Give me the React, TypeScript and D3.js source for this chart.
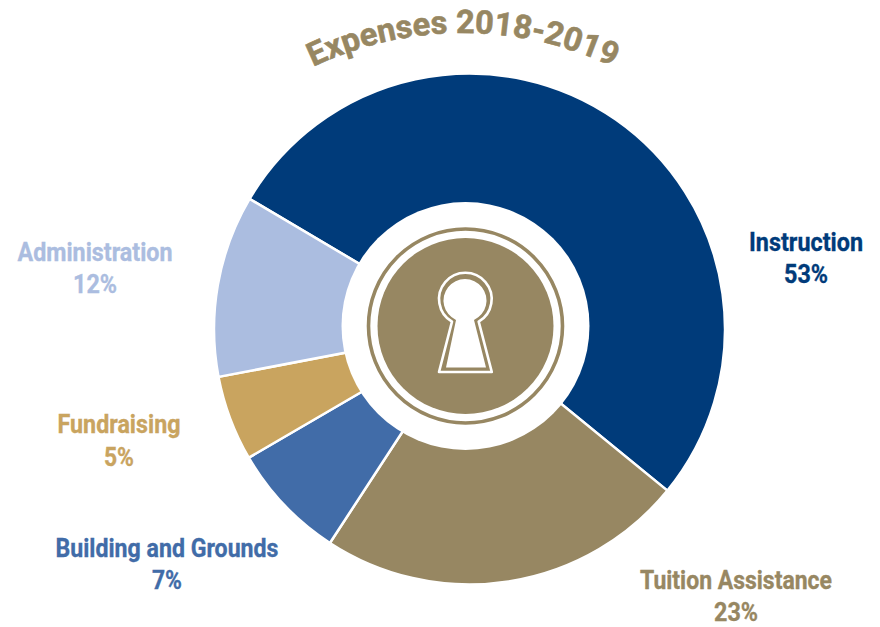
import React from 'react';
import * as d3 from 'd3';

const categories = ['Instruction', 'Tuition Assistance', 'Building and Grounds', 'Fundraising', 'Administration'];
// slice sizes, the printed labels are rounded differently
const sliceShares = [52.4, 23.3, 7.4, 5.4, 11.5];
const printedPercents = ['53%', '23%', '7%', '5%', '12%'];
const sliceColors = ['#003b7a', '#978762', '#416ca8', '#c9a45f', '#abbde0'];
const titleText = 'Expenses 2018-2019';

const width = 880;
const height = 627;
const pieCenter = { x: 469.5, y: 329 };
const hubCenter = { x: 465.5, y: 326 };
const outerRadius = 255.5;
const startDeg = -59.4;

// centre x, first baseline and squeezed text width for each label
const labelLayout = [
  { x: 806, y: 250.5, w: 114, pw: 44 },
  { x: 736, y: 588.5, w: 192, pw: 44 },
  { x: 167, y: 556.5, w: 223, pw: 30 },
  { x: 119, y: 433, w: 123, pw: 30 },
  { x: 95, y: 260.5, w: 155, pw: 44 },
];

const pie = d3.pie<number>()
  .sort(null)
  .startAngle((startDeg * Math.PI) / 180)
  .endAngle(((startDeg + 360) * Math.PI) / 180);
const arc = d3.arc<d3.PieArcDatum<number>>().innerRadius(0).outerRadius(outerRadius);

const titleCurve = d3.path();
titleCurve.arc(463, 381, 348, (-150 * Math.PI) / 180, (-30 * Math.PI) / 180);

const keyholeInner = 'M456 320 A21.5 21.5 0 1 1 474 320 L486 367.5 L446 367.5 Z';
const keyholeOuter = 'M452 321.7 A26.3 26.3 0 1 1 478.7 321.7 L491.8 372 L439 372 Z';

export default function App() {
  const slices = pie(sliceShares);
  return (
    <div style={{ position: 'fixed', left: 0, top: 0 }}>
      <svg width={width} height={height} style={{ display: 'block', fontFamily: 'Roboto', fontWeight: 700 }}>
        <rect width={width} height={height} fill="#fff" />
        <defs>
          <path id="title-curve" d={titleCurve.toString()} />
        </defs>
        <text fontSize={32.5} fill="#978762" textAnchor="middle" stroke="#978762" strokeWidth={0.6}>
          <textPath href="#title-curve" startOffset="50%">{titleText}</textPath>
        </text>
        <g transform={`translate(${pieCenter.x},${pieCenter.y})`}>
          {slices.map((d, i) => (
            <path key={categories[i]} d={arc(d) ?? ''} fill={sliceColors[i]} stroke="#fff" strokeWidth={2.5} />
          ))}
        </g>
        <g transform={`translate(${hubCenter.x},${hubCenter.y})`}>
          <circle r={124} fill="#fff" />
          <circle r={97} fill="none" stroke="#978762" strokeWidth={3.6} />
          <circle r={88} fill="#978762" />
        </g>
        <path d={keyholeInner} fill="#fff" />
        <path d={keyholeOuter} fill="none" stroke="#fff" strokeWidth={2.6} strokeLinejoin="round" />
        {categories.map((name, i) => {
          const l = labelLayout[i];
          return (
            <g key={name} fill={sliceColors[i]} stroke={sliceColors[i]} strokeWidth={0.35} fontSize={26} textAnchor="middle">
              <text x={l.x} y={l.y} textLength={l.w} lengthAdjust="spacingAndGlyphs">{name}</text>
              <text x={l.x} y={l.y + 32.5} textLength={l.pw} lengthAdjust="spacingAndGlyphs">{printedPercents[i]}</text>
            </g>
          );
        })}
      </svg>
    </div>
  );
}
